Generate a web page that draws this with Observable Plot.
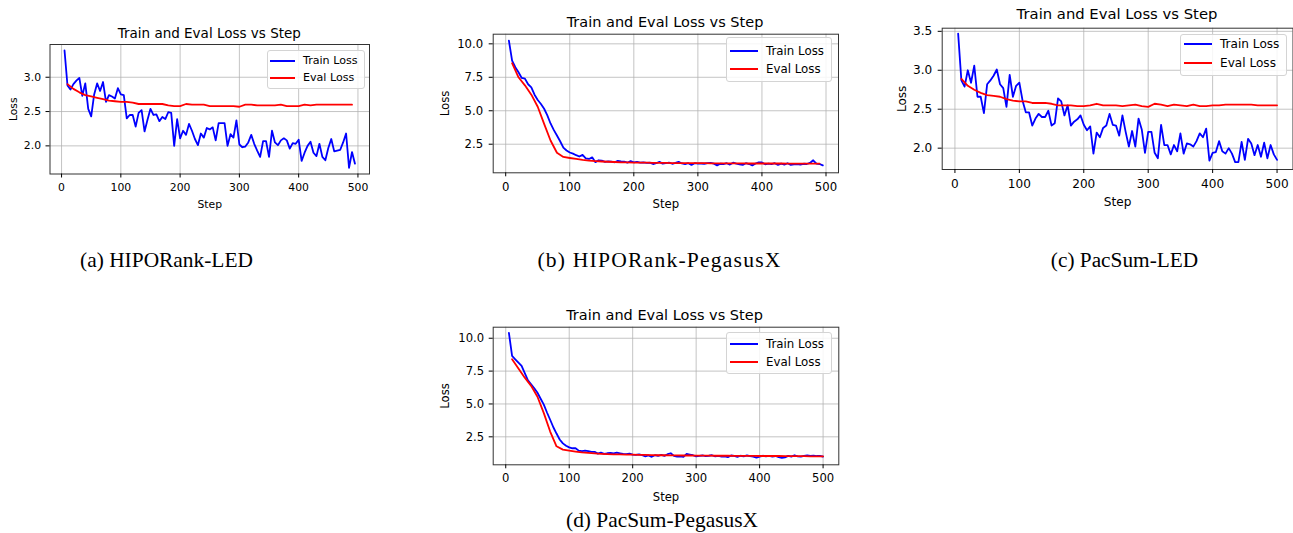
<!DOCTYPE html>
<html><head><meta charset="utf-8">
<script src="https://cdn.jsdelivr.net/npm/d3@7"></script>
<script src="https://cdn.jsdelivr.net/npm/@observablehq/plot@0.6"></script>
<style>
body{margin:0;background:#fff;}
#root{position:relative;width:1293px;height:533px;overflow:hidden;font-family:"DejaVu Sans",sans-serif;background:#fff;}
.holder{position:absolute;}
.title{position:absolute;white-space:nowrap;transform:translateX(-50%);line-height:1;color:#000;font-family:"DejaVu Sans",sans-serif;}
.caption{position:absolute;white-space:nowrap;transform:translateX(-50%);line-height:1;color:#000;font-family:"Liberation Serif","Times New Roman",serif;}
.legend{position:absolute;border:1px solid #d4d4d4;border-radius:3px;background:rgba(255,255,255,0.85);box-sizing:border-box;}
.sw{position:absolute;height:2px;}
.lt{position:absolute;white-space:nowrap;color:#000;font-family:"DejaVu Sans",sans-serif;}
</style></head>
<body><div id="root"></div>
<script>
// ---------- data ----------
const chartTitle = "Train and Eval Loss vs Step";
const xLabel = "Step";
const yLabel = "Loss";
const seriesNames = ["Train Loss", "Eval Loss"];
const captions = ["(a) HIPORank-LED", "(b) HIPORank-PegasusX", "(c) PacSum-LED", "(d) PacSum-PegasusX"];
const xTicks = [0, 100, 200, 300, 400, 500];
const yTicksA = [2.0, 2.5, 3.0];
const yTicksB = [2.5, 5.0, 7.5, 10.0];
const yTicksC = [2.0, 2.5, 3.0, 3.5];
const yTicksD = [2.5, 5.0, 7.5, 10.0];

const stepsTrainA = d3.range(5, 496, 5);
const stepsEvalA = d3.range(10, 491, 10);
const stepsTrainB = d3.range(5, 496, 5);
const stepsEvalB = d3.range(10, 491, 10);
const stepsTrainC = d3.range(5, 501, 5);
const stepsEvalC = d3.range(10, 501, 10);
const stepsTrainD = d3.range(5, 501, 5);
const stepsEvalD = d3.range(10, 501, 10);

const trainA = [3.39,2.88,2.82,2.90,2.95,2.99,2.73,2.91,2.54,2.43,
 2.75,2.91,2.80,2.93,2.64,2.74,2.72,2.69,2.84,2.75,
 2.74,2.40,2.45,2.45,2.28,2.48,2.52,2.21,2.38,2.54,
 2.45,2.46,2.36,2.42,2.39,2.49,2.48,2.00,2.39,2.11,
 2.22,2.16,2.32,2.22,2.10,2.01,2.18,2.12,2.26,2.24,
 2.27,2.08,2.33,2.33,2.33,2.00,2.17,2.12,2.37,2.02,
 1.98,1.99,2.05,2.16,2.03,1.93,1.84,2.07,2.07,1.84,
 2.22,2.05,2.01,2.08,2.11,2.08,1.96,2.04,2.03,2.09,
 1.78,1.90,2.00,2.06,1.90,1.85,2.03,1.84,1.79,1.97,
 2.10,1.92,1.93,1.94,2.05,2.18,1.68,1.91,1.74];
const evalA = [2.90,2.83,2.78,2.74,2.72,2.70,2.68,2.66,2.65,2.64,
 2.64,2.63,2.61,2.61,2.61,2.61,2.61,2.59,2.58,2.58,
 2.61,2.60,2.60,2.60,2.58,2.58,2.58,2.58,2.58,2.57,
 2.60,2.60,2.59,2.59,2.59,2.59,2.60,2.58,2.58,2.58,
 2.60,2.59,2.60,2.60,2.60,2.60,2.60,2.60,2.60];

const trainB = [10.24,8.75,8.25,7.88,7.45,7.40,6.98,6.75,6.20,5.80,
 5.50,5.15,4.65,4.05,3.57,3.15,2.72,2.25,2.03,1.88,
 1.80,1.68,1.58,1.70,1.45,1.40,1.52,1.16,1.30,1.28,
 1.18,1.22,1.20,1.15,1.25,1.22,1.20,1.12,1.24,1.15,
 1.18,1.12,1.15,1.10,1.12,1.02,1.08,1.18,1.05,1.08,
 1.12,1.04,1.10,1.18,1.06,1.02,1.08,0.95,1.08,1.05,
 1.06,1.04,1.08,1.10,1.05,0.92,1.04,1.02,1.08,0.98,
 1.12,1.05,1.00,0.96,1.08,1.02,0.92,1.06,1.15,1.14,
 1.00,1.05,1.02,1.08,0.95,1.05,0.98,1.08,0.96,1.00,
 1.02,0.98,1.04,1.02,1.10,1.30,1.05,1.02,0.92];
const evalB = [8.55,7.50,6.90,6.20,5.30,4.02,2.78,1.86,1.55,1.47,
 1.40,1.33,1.28,1.24,1.21,1.19,1.17,1.15,1.14,1.13,
 1.12,1.12,1.11,1.10,1.10,1.09,1.09,1.08,1.08,1.08,
 1.08,1.07,1.07,1.07,1.07,1.07,1.07,1.06,1.06,1.06,
 1.06,1.06,1.06,1.05,1.05,1.05,1.05,1.05,1.05];

const trainC = [3.47,2.87,2.79,3.00,2.84,3.06,2.66,2.66,2.45,2.82,
 2.87,2.93,3.01,2.82,2.77,2.53,2.94,2.66,2.80,2.84,
 2.61,2.46,2.46,2.29,2.38,2.44,2.40,2.40,2.48,2.29,
 2.32,2.64,2.60,2.42,2.55,2.29,2.34,2.37,2.42,2.30,
 2.23,2.28,1.93,2.20,2.14,2.26,2.29,2.44,2.30,2.29,
 2.16,2.42,2.21,2.02,2.22,2.02,2.38,2.24,1.94,2.21,
 2.21,1.94,1.87,2.30,2.04,2.04,1.92,2.04,1.96,2.19,
 1.93,2.06,2.05,2.02,2.09,2.19,2.14,2.25,1.84,1.94,
 1.95,2.09,1.96,1.93,2.00,1.93,1.82,1.82,2.08,1.85,
 2.12,2.06,1.91,2.04,1.89,2.07,1.87,2.04,1.92,1.85];
const evalC = [2.89,2.80,2.75,2.71,2.68,2.67,2.66,2.63,2.61,2.60,
 2.60,2.58,2.58,2.58,2.57,2.55,2.55,2.55,2.54,2.54,
 2.55,2.57,2.55,2.55,2.55,2.54,2.55,2.56,2.54,2.53,
 2.57,2.56,2.54,2.56,2.55,2.54,2.56,2.54,2.54,2.55,
 2.55,2.56,2.56,2.56,2.56,2.56,2.55,2.55,2.55,2.55];

const trainD = [10.40,8.65,8.40,8.15,7.90,7.35,6.80,6.50,6.20,5.85,
 5.40,4.95,4.35,3.80,3.23,2.75,2.30,2.00,1.82,1.70,
 1.63,1.63,1.45,1.42,1.45,1.42,1.35,1.36,1.22,1.30,
 1.20,1.25,1.28,1.24,1.30,1.25,1.20,1.18,1.22,1.15,
 1.12,1.16,1.10,1.02,1.08,0.98,1.10,1.06,1.12,1.05,
 1.18,1.25,1.05,1.00,1.02,0.98,1.20,1.15,1.10,1.02,
 1.05,1.08,1.03,1.06,1.10,1.02,1.05,1.00,1.02,0.95,
 1.08,1.05,0.98,1.06,1.02,1.08,1.04,1.00,0.92,1.00,
 1.06,1.02,1.05,1.00,1.04,0.95,0.90,0.94,1.05,1.00,
 1.10,1.02,1.00,1.05,1.08,1.05,1.07,1.04,1.05,1.00];
const evalD = [8.40,7.70,7.00,6.38,5.55,4.30,2.90,1.78,1.53,1.45,
 1.38,1.32,1.28,1.24,1.21,1.19,1.17,1.16,1.15,1.14,
 1.13,1.12,1.11,1.10,1.10,1.09,1.09,1.08,1.08,1.07,
 1.07,1.07,1.06,1.06,1.06,1.05,1.05,1.05,1.05,1.04,
 1.04,1.04,1.04,1.03,1.03,1.03,1.03,1.02,1.02,1.02];

const colors = ["#0000ff", "#ff0000"];

// ---------- layout ----------
const panels = [
  {train: trainA, trainSteps: stepsTrainA, ev: evalA, evSteps: stepsEvalA, yTicks: yTicksA, caption: captions[0],
   svg: {left: 0, top: 0, width: 425, height: 230}, frame: {left: 49.5, right: 369, top: 44, bottom: 173.5},
   xDomain: [-19.5, 519.5], yDomain: [1.59, 3.477], fs: 10.8, xLabelOffset: 33.5, yLabelOffset: 41, tickPad: 5,
   title: {x: 209.3, base: 38.3, fs: 13.5},
   legend: {left: 267, top: 50, right: 365, bottom: 89, rows: [61, 78], swL: 270, swR: 295, text: 303, fs: 11.1},
   cap: {x: 166.5, base: 268, fs: 21.4, ls: 0}},
  {train: trainB, trainSteps: stepsTrainB, ev: evalB, evSteps: stepsEvalB, yTicks: yTicksB, caption: captions[1],
   svg: {left: 425, top: 0, width: 455, height: 230}, frame: {left: 492.7, right: 838, top: 33.7, bottom: 172.3},
   xDomain: [-19.5, 519.5], yDomain: [0.364, 10.72], fs: 11.7, xLabelOffset: 35, yLabelOffset: 52.7, tickPad: 6,
   title: {x: 665, base: 27.3, fs: 14.5},
   legend: {left: 726, top: 36.7, right: 831.7, bottom: 81.7, rows: [50.7, 69.3], swL: 730, swR: 758, text: 766, fs: 11.8},
   cap: {x: 659.5, base: 268, fs: 21.6, ls: 1.2}},
  {train: trainC, trainSteps: stepsTrainC, ev: evalC, evSteps: stepsEvalC, yTicks: yTicksC, caption: captions[2],
   svg: {left: 880, top: 0, width: 413, height: 230}, frame: {left: 941.7, right: 1292.5, top: 27.7, bottom: 169},
   xDomain: [-19.75, 524.75], yDomain: [1.726, 3.54], fs: 12.1, xLabelOffset: 36.5, yLabelOffset: 45, tickPad: 6,
   title: {x: 1117, base: 20, fs: 14.8},
   legend: {left: 1180, top: 34, right: 1287, bottom: 76, rows: [44.3, 63.3], swL: 1184, swR: 1211.7, text: 1220, fs: 12.1},
   cap: {x: 1124.5, base: 268, fs: 21.3, ls: 0}},
  {train: trainD, trainSteps: stepsTrainD, ev: evalD, evSteps: stepsEvalD, yTicks: yTicksD, caption: captions[3],
   svg: {left: 425, top: 290, width: 455, height: 230}, frame: {left: 492.7, right: 838.3, top: 326.7, bottom: 464.3},
   xDomain: [-19.75, 524.75], yDomain: [0.372, 10.84], fs: 11.6, xLabelOffset: 35.7, yLabelOffset: 52.7, tickPad: 5,
   title: {x: 664.5, base: 320, fs: 14.5},
   legend: {left: 726, top: 332, right: 832, bottom: 374, rows: [344, 361.7], swL: 730, swR: 758, text: 766, fs: 11.8},
   cap: {x: 662, base: 528, fs: 21.4, ls: 0}}
];

const root = document.getElementById("root");
const fmt = d3.format(".1f");

for (const p of panels) {
  const trainData = p.trainSteps.map((s, i) => ({step: s, loss: p.train[i]}));
  const evalData = p.evSteps.map((s, i) => ({step: s, loss: p.ev[i]}));
  const gridStyle = {stroke: "#b0b0b0", strokeOpacity: 0.75, strokeWidth: 1};
  const chart = Plot.plot({
    width: p.svg.width,
    height: p.svg.height,
    marginLeft: p.frame.left - p.svg.left,
    marginRight: p.svg.left + p.svg.width - p.frame.right,
    marginTop: p.frame.top - p.svg.top,
    marginBottom: p.svg.top + p.svg.height - p.frame.bottom,
    x: {domain: p.xDomain},
    y: {domain: p.yDomain},
    style: {fontFamily: "'DejaVu Sans', sans-serif", fontSize: p.fs + "px", color: "#000", background: "transparent", overflow: "visible", maxWidth: "none"},
    marks: [
      Plot.gridX(xTicks, gridStyle),
      Plot.gridY(p.yTicks, gridStyle),
      Plot.line(trainData, {x: "step", y: "loss", stroke: colors[0], strokeWidth: 1.8}),
      Plot.line(evalData, {x: "step", y: "loss", stroke: colors[1], strokeWidth: 1.8}),
      Plot.frame({stroke: "#333", strokeWidth: 1}),
      Plot.axisX(xTicks, {tickSize: 4, tickPadding: p.tickPad, tickFormat: d => String(d), label: xLabel, labelAnchor: "center", labelArrow: "none", labelOffset: p.xLabelOffset}),
      Plot.axisY(p.yTicks, {tickSize: 4, tickPadding: p.tickPad, tickFormat: fmt, label: yLabel, labelAnchor: "center", labelArrow: "none", labelOffset: p.yLabelOffset})
    ]
  });
  const holder = document.createElement("div");
  holder.className = "holder";
  holder.style.left = p.svg.left + "px";
  holder.style.top = p.svg.top + "px";
  holder.style.width = p.svg.width + "px";
  holder.style.height = p.svg.height + "px";
  holder.appendChild(chart);
  root.appendChild(holder);

  // title
  const t = document.createElement("div");
  t.className = "title";
  t.textContent = chartTitle;
  t.style.fontSize = p.title.fs + "px";
  t.style.left = p.title.x + "px";
  t.style.top = (p.title.base - 0.846 * p.title.fs) + "px";
  root.appendChild(t);

  // legend
  const L = p.legend;
  const box = document.createElement("div");
  box.className = "legend";
  box.style.left = L.left + "px";
  box.style.top = L.top + "px";
  box.style.width = (L.right - L.left) + "px";
  box.style.height = (L.bottom - L.top) + "px";
  root.appendChild(box);
  seriesNames.forEach((name, i) => {
    const sw = document.createElement("div");
    sw.className = "sw";
    sw.style.background = colors[i];
    sw.style.left = L.swL + "px";
    sw.style.width = (L.swR - L.swL) + "px";
    sw.style.top = (L.rows[i] - 1) + "px";
    root.appendChild(sw);
    const lt = document.createElement("div");
    lt.className = "lt";
    lt.textContent = name;
    lt.style.fontSize = L.fs + "px";
    lt.style.lineHeight = (L.fs * 1.2) + "px";
    lt.style.left = L.text + "px";
    lt.style.top = (L.rows[i] - L.fs * 0.6) + "px";
    root.appendChild(lt);
  });

  // caption
  const c = document.createElement("div");
  c.className = "caption";
  c.textContent = p.caption;
  c.style.fontSize = p.cap.fs + "px";
  c.style.letterSpacing = p.cap.ls + "px";
  c.style.left = p.cap.x + "px";
  c.style.top = (p.cap.base - 0.8375 * p.cap.fs) + "px";
  root.appendChild(c);
}
</script>
</body></html>
